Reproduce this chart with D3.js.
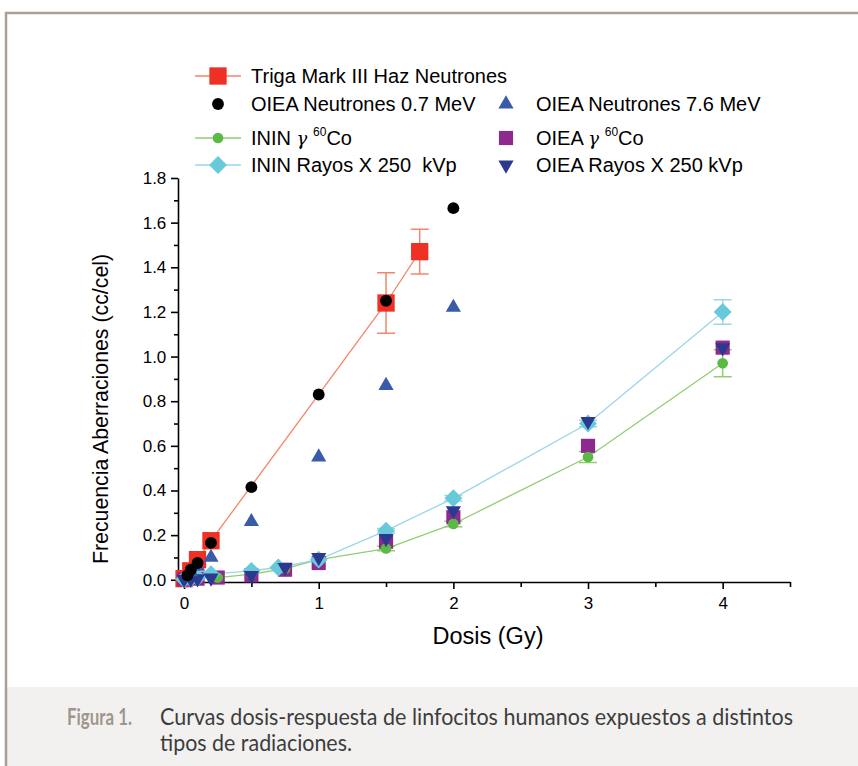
<!DOCTYPE html>
<html><head><meta charset="utf-8">
<script src="https://cdn.jsdelivr.net/npm/d3@7"></script>
<style>body{margin:0;background:#fff}svg{display:block}</style>
</head><body>
<svg id="c" width="858" height="766"></svg>
<script>
// ---- data ----
const trigaDose = [0, 0.05, 0.1, 0.2, 1.5, 1.75];
const trigaFreq = [0.005, 0.04, 0.09, 0.175, 1.24, 1.47];
const trigaErr  = [0, 0, 0, 0, 0.135, 0.10];

const neut07Dose = [0.025, 0.05, 0.1, 0.2, 0.5, 1, 1.5, 2];
const neut07Freq = [0.02, 0.045, 0.075, 0.165, 0.415, 0.83, 1.25, 1.665];

const neut76Dose = [0.05, 0.1, 0.2, 0.5, 1, 1.5, 2];
const neut76Freq = [0.035, 0.06, 0.1, 0.26, 0.55, 0.87, 1.22];

const ininCoDose = [0.25, 0.5, 0.75, 1, 1.5, 2, 3, 4];
const ininCoFreq = [0.01, 0.025, 0.05, 0.09, 0.14, 0.25, 0.55, 0.97];
const ininCoErr  = [0, 0, 0, 0, 0.01, 0.012, 0.025, 0.06];

const oieaCoDose = [0, 0.1, 0.25, 0.5, 0.75, 1, 1.5, 2, 3, 4];
const oieaCoFreq = [0.002, 0.005, 0.01, 0.02, 0.045, 0.075, 0.17, 0.28, 0.60, 1.04];

const ininXDose = [0, 0.05, 0.1, 0.2, 0.5, 0.7, 1, 1.5, 2, 3, 4];
const ininXFreq = [0.002, 0.005, 0.01, 0.025, 0.04, 0.055, 0.09, 0.22, 0.365, 0.70, 1.20];
const ininXErr  = [0, 0, 0, 0, 0, 0, 0, 0.01, 0.012, 0.015, 0.055];

const oieaXDose = [0, 0.05, 0.1, 0.2, 0.5, 0.75, 1, 1.5, 2, 3, 4];
const oieaXFreq = [0.002, 0.003, 0.005, 0.008, 0.02, 0.055, 0.10, 0.185, 0.31, 0.71, 1.04];

const xTicks = [0, 1, 2, 3, 4];
const yTicks = [0, 0.2, 0.4, 0.6, 0.8, 1.0, 1.2, 1.4, 1.6, 1.8];

const xLabel = "Dosis (Gy)";
const yLabel = "Frecuencia Aberraciones (cc/cel)";
const captionHead = "Figura 1.";
const captionLines = ["Curvas dosis-respuesta de linfocitos humanos expuestos a distintos", "tipos de radiaciones."];

// ---- drawing ----
const svg = d3.select("#c");
const font = "'Liberation Sans', Arial, sans-serif";

// frame & caption background
svg.append("rect").attr("x", 7).attr("y", 687).attr("width", 851).attr("height", 79).attr("fill", "#f2f1ef");
svg.append("path").attr("d", "M6,766 V13 H858").attr("fill", "none").attr("stroke", "#a99f94").attr("stroke-width", 2.5);

const x = d3.scaleLinear().domain([-0.045, 4.5]).range([178, 790]);
const y = d3.scaleLinear().domain([-0.01, 1.8]).range([582, 178]);

// axes
const xAxis = svg.append("g").attr("transform", "translate(0,582)")
  .call(d3.axisBottom(x).tickValues(xTicks).tickFormat(d3.format("d")).tickSize(7).tickSizeOuter(0));
const xMinor = svg.append("g").attr("transform", "translate(0,582)")
  .call(d3.axisBottom(x).tickValues([0.5, 1.5, 2.5, 3.5, 4.5]).tickFormat("").tickSize(5).tickSizeOuter(0));
xMinor.select(".domain").remove();
const yAxis = svg.append("g").attr("transform", "translate(178,0)")
  .call(d3.axisLeft(y).tickValues(yTicks).tickFormat(d3.format(".1f")).tickSize(7).tickSizeOuter(0));
const yMinor = svg.append("g").attr("transform", "translate(178,0)")
  .call(d3.axisLeft(y).tickValues([0.1, 0.3, 0.5, 0.7, 0.9, 1.1, 1.3, 1.5, 1.7]).tickFormat("").tickSize(4).tickSizeOuter(0));
yMinor.select(".domain").remove();
svg.selectAll(".domain, .tick line").attr("stroke", "#000").attr("stroke-width", 1.6);
xAxis.selectAll("text").attr("font-family", font).attr("font-size", 17).attr("fill", "#000").attr("dy", "1.0em");
yAxis.selectAll("text").attr("font-family", font).attr("font-size", 17).attr("fill", "#000").attr("dx", "-0.1em");

svg.append("text").attr("x", 488).attr("y", 644).attr("text-anchor", "middle")
  .attr("font-family", font).attr("font-size", 23.5).text(xLabel);
svg.append("text").attr("transform", "translate(108,409) rotate(-90)").attr("text-anchor", "middle")
  .attr("font-family", font).attr("font-size", 21.3).text(yLabel);

const zip = (xs, ys, es) => xs.map((d, i) => ({x: d, y: ys[i], e: es ? es[i] : 0}));
const line = d3.line().x(d => x(d.x)).y(d => y(d.y));

// connecting lines
const lines = [
  {data: zip(trigaDose, trigaFreq), color: "#f4866a"},
  {data: zip(ininCoDose, ininCoFreq), color: "#93cd72"},
  {data: zip(ininXDose, ininXFreq), color: "#99d6e8"}
];
lines.forEach(l => svg.append("path").datum(l.data).attr("d", line)
  .attr("fill", "none").attr("stroke", l.color).attr("stroke-width", 1.3));

// error bars
function errBars(data, color) {
  const g = svg.append("g").attr("stroke", color).attr("stroke-width", 1.5).attr("fill", "none");
  data.filter(d => d.e > 0).forEach(d => {
    const cx = x(d.x), t = y(d.y + d.e), b = y(d.y - d.e);
    g.append("path").attr("d", `M${cx},${t}V${b}M${cx-9},${t}H${cx+9}M${cx-9},${b}H${cx+9}`);
  });
}
errBars(zip(trigaDose, trigaFreq, trigaErr), "#f4866a");
errBars(zip(ininCoDose, ininCoFreq, ininCoErr), "#93cd72");
errBars(zip(ininXDose, ininXFreq, ininXErr), "#99d6e8");

// markers
const sym = (type, size) => d3.symbol().type(type).size(size)();
function markers(data, type, size, color, rot) {
  svg.append("g").selectAll("path").data(data).join("path")
    .attr("transform", d => `translate(${x(d.x)},${y(d.y)})` + (rot ? ` rotate(${rot})` : ""))
    .attr("d", sym(type, size)).attr("fill", color);
}
markers(zip(trigaDose, trigaFreq), d3.symbolSquare, 300, "#ee3124");
markers(zip(oieaCoDose, oieaCoFreq), d3.symbolSquare, 200, "#8e2a8e");
markers(zip(ininCoDose, ininCoFreq), d3.symbolCircle, 90, "#5cb946");
markers(zip(ininXDose, ininXFreq), d3.symbolSquare, 160, "#67c9da", 45);
markers(zip(oieaXDose, oieaXFreq), d3.symbolTriangle, 100, "#2b3a8f", 180);
markers(zip(neut76Dose, neut76Freq), d3.symbolTriangle, 100, "#3a5aaa");
markers(zip(neut07Dose, neut07Freq), d3.symbolCircle, 110, "#000");

// legend
const leg = [
  {row: 0, col: 0, label: "Triga Mark III Haz Neutrones", type: d3.symbolSquare, size: 300, color: "#ee3124", line: "#f4866a"},
  {row: 1, col: 0, label: "OIEA Neutrones 0.7 MeV", type: d3.symbolCircle, size: 110, color: "#000"},
  {row: 1, col: 1, label: "OIEA Neutrones 7.6 MeV", type: d3.symbolTriangle, size: 100, color: "#3a5aaa"},
  {row: 2, col: 0, label: ["ININ ", "γ ", "60", "Co"], type: d3.symbolCircle, size: 90, color: "#5cb946", line: "#93cd72"},
  {row: 2, col: 1, label: ["OIEA ", "γ ", "60", "Co"], type: d3.symbolSquare, size: 200, color: "#8e2a8e"},
  {row: 3, col: 0, label: "ININ Rayos X 250  kVp", type: d3.symbolSquare, size: 160, color: "#67c9da", rot: 45, line: "#99d6e8"},
  {row: 3, col: 1, label: "OIEA Rayos X 250 kVp", type: d3.symbolTriangle, size: 100, color: "#2b3a8f", rot: 180}
];
const rowY = [76, 104, 138, 165];
const colMX = [218, 506], colTX = [251, 536];
leg.forEach(l => {
  const cy = rowY[l.row], mx = colMX[l.col];
  if (l.line) svg.append("line").attr("x1", mx - 23).attr("x2", mx + 23).attr("y1", cy).attr("y2", cy)
    .attr("stroke", l.line).attr("stroke-width", 1.3);
  svg.append("path").attr("transform", `translate(${mx},${cy})` + (l.rot ? ` rotate(${l.rot})` : ""))
    .attr("d", sym(l.type, l.size)).attr("fill", l.color);
  const t = svg.append("text").attr("x", colTX[l.col]).attr("y", cy + 7)
    .attr("font-family", font).attr("font-size", 20).attr("fill", "#000")
    .attr("xml:space", "preserve").style("white-space", "pre");
  if (Array.isArray(l.label)) {
    t.append("tspan").text(l.label[0]);
    t.append("tspan").attr("font-family", "'DejaVu Serif', serif").attr("font-style", "italic").attr("font-size", 18).text(l.label[1]);
    t.append("tspan").attr("dy", -9).attr("font-size", 12).text(l.label[2]);
    t.append("tspan").attr("dy", 9).text(l.label[3]);
  } else t.text(l.label);
});

// caption
const cfont = "Lato, 'Open Sans', sans-serif";
svg.append("text").attr("x", 67).attr("y", 725).attr("font-family", cfont).attr("font-size", 22.5)
  .attr("fill", "#9f968b").attr("font-weight", 700)
  .attr("textLength", 65).attr("lengthAdjust", "spacingAndGlyphs").text(captionHead);
const capLen = [633, 192];
captionLines.forEach((s, i) => svg.append("text").attr("x", 160).attr("y", 725 + i * 26)
  .attr("font-family", cfont).attr("font-size", 22.5).attr("fill", "#3d3d3d")
  .attr("textLength", capLen[i]).attr("lengthAdjust", "spacingAndGlyphs").text(s));
</script>
</body></html>
